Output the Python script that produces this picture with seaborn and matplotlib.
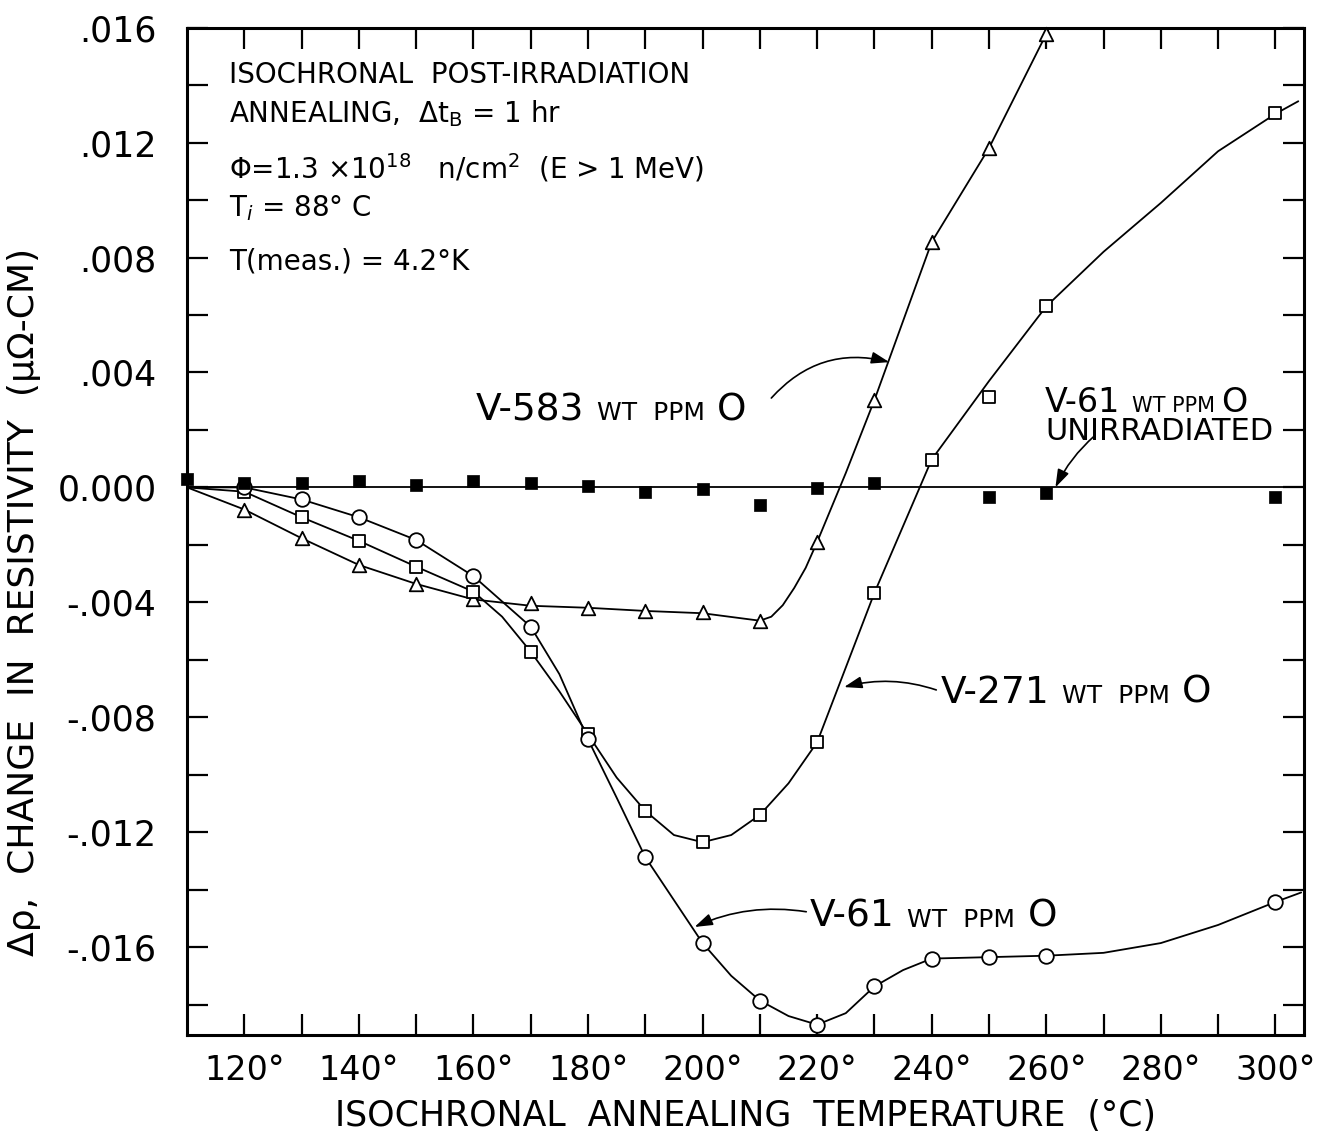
import numpy as np
import pandas as pd
import matplotlib
matplotlib.use("Agg")
import matplotlib.pyplot as plt
import seaborn as sns

# ---------------- data ----------------
# measured points
V583_T = [120, 130, 140, 150, 160, 170, 180, 190, 200, 210, 220, 230, 240, 250, 260]
V583_D = [-0.00077, -0.00177, -0.0027, -0.00336, -0.0039, -0.00404, -0.00419, -0.0043,
          -0.00433, -0.00464, -0.00191, 0.00304, 0.00854, 0.01181, 0.01578]

V271_T = [120, 130, 140, 150, 160, 170, 180, 190, 200, 210, 220, 230, 240, 250, 260, 300]
V271_D = [-0.00015, -0.00104, -0.00186, -0.00276, -0.00363, -0.00572, -0.0086, -0.01126,
          -0.01235, -0.0114, -0.00887, -0.00367, 0.00097, 0.00313, 0.0063, 0.01303]

V61_T = [120, 130, 140, 150, 160, 170, 180, 190, 200, 210, 220, 230, 240, 250, 260, 300]
V61_D = [0.0, -0.00042, -0.00104, -0.00183, -0.00309, -0.00485, -0.00877, -0.01287,
         -0.01586, -0.01786, -0.0187, -0.01737, -0.0164, -0.01635, -0.0163, -0.01443]

UNIRR_T = [110, 120, 130, 140, 150, 160, 170, 180, 190, 200, 210, 220, 230, 250, 260, 300]
UNIRR_D = [0.0003, 0.00017, 0.00014, 0.00022, 0.0001, 0.00022, 0.00016, 0.00006,
           -0.00017, -0.00006, -0.0006, -0.00002, 0.00016, -0.00035, -0.0002, -0.00033]

# hand-drawn curves, positions
C583_T = [110, 120, 130, 140, 150, 160, 170, 180, 190, 200, 210, 212, 214, 216, 218, 220, 225,
          230, 240, 250, 260, 260.5]
C583_D = [0.0, -0.00077, -0.00177, -0.0027, -0.00336, -0.0039, -0.00412, -0.00419, -0.0043,
          -0.00438, -0.00464, -0.0045, -0.0041, -0.0035, -0.0028, -0.0019, 0.0005,
          0.00304, 0.00854, 0.01181, 0.01578, 0.016]

C271_T = [110, 120, 130, 140, 150, 160, 165, 170, 175, 180, 185, 190, 195, 200, 205, 210, 215,
          220, 230, 240, 250, 260, 270, 280, 290, 300, 304]
C271_D = [0.0, -0.00015, -0.00104, -0.00186, -0.00276, -0.00363, -0.0045, -0.00572, -0.0071,
          -0.0086, -0.0101, -0.01126, -0.0121, -0.01235, -0.0121, -0.0114, -0.0103, -0.00887,
          -0.00367, 0.00097, 0.0037, 0.0063, 0.0082, 0.0099, 0.0117, 0.0130, 0.01344]

C61_T = [110, 120, 130, 140, 150, 160, 170, 175, 180, 185, 190, 200, 205, 210, 215, 220, 225,
         230, 235, 240, 250, 260, 270, 280, 290, 300, 304.5]
C61_D = [0.0, 0.0, -0.00042, -0.00104, -0.00183, -0.00309, -0.00485, -0.0065, -0.00877, -0.0108,
         -0.01287, -0.01586, -0.0170, -0.01786, -0.0184, -0.0187, -0.0183, -0.01737, -0.0168,
         -0.0164, -0.01635, -0.0163, -0.0162, -0.01586, -0.01523, -0.01443, -0.0141]

# axis ticks / labels
XTICKS = [120, 130, 140, 150, 160, 170, 180, 190, 200, 210, 220, 230, 240, 250, 260, 270, 280, 290, 300]
XTICK_LABELS = ["120°", "", "140°", "", "160°", "", "180°", "", "200°", "", "220°", "",
                "240°", "", "260°", "", "280°", "", "300°"]
YTICKS = [-0.018, -0.016, -0.014, -0.012, -0.010, -0.008, -0.006, -0.004, -0.002, 0.0,
          0.002, 0.004, 0.006, 0.008, 0.010, 0.012, 0.014, 0.016]
YTICK_LABELS = ["", "-.016", "", "-.012", "", "-.008", "", "-.004", "", "0.000",
                "", ".004", "", ".008", "", ".012", "", ".016"]

# ---------------- figure ----------------
sns.set_theme(style="ticks")
plt.rcParams["font.family"] = ["DejaVu Sans"]
plt.rcParams["mathtext.fontset"] = "dejavusans"
for k in ["text.color", "axes.labelcolor", "xtick.color", "ytick.color", "axes.edgecolor"]:
    plt.rcParams[k] = "black"

fig, ax = plt.subplots(figsize=(13.22, 11.35), dpi=100)
fig.subplots_adjust(left=0.1415, right=0.9864, top=0.9756, bottom=0.0881)

LW = 1.3
ax.axhline(0.0, color="black", lw=LW, zorder=2)

for cx, cy in [(C583_T, C583_D), (C271_T, C271_D), (C61_T, C61_D)]:
    sns.lineplot(x=cx, y=cy, ax=ax, color="black", lw=LW, sort=False,
                 estimator=None, zorder=2)

mk = dict(ax=ax, color="white", edgecolor="black", linewidth=1.3, zorder=3, clip_on=False,
          legend=False)
sns.scatterplot(x=V583_T, y=V583_D, marker="^", s=95, **mk)
sns.scatterplot(x=V271_T, y=V271_D, marker="s", s=75, **mk)
sns.scatterplot(x=V61_T, y=V61_D, marker="o", s=110, **mk)
sns.scatterplot(x=UNIRR_T, y=UNIRR_D, marker="s", s=70, color="black", edgecolor="black",
                linewidth=0.5, zorder=3, clip_on=False, legend=False, ax=ax)

ax.set_xlim(110, 305)
ax.set_ylim(-0.01906, 0.016)
ax.set_xticks(XTICKS)
ax.set_xticklabels(XTICK_LABELS, fontsize=24)
ax.set_yticks(YTICKS)
ax.set_yticklabels(YTICK_LABELS, fontsize=25)
ax.tick_params(axis="both", direction="in", length=15, width=1.6, top=True, right=True,
               colors="black")
ax.tick_params(axis="x", pad=14)
ax.tick_params(axis="y", pad=22)
for sp in ax.spines.values():
    sp.set_linewidth(2.2)
    sp.set_visible(True)
    sp.set_color("black")

ax.set_xlabel("ISOCHRONAL  ANNEALING  TEMPERATURE  (°C)", fontsize=25, labelpad=8)
ax.set_ylabel("Δρ,  CHANGE  IN  RESISTIVITY  (μΩ-CM)", fontsize=26)
ax.yaxis.set_label_coords(-0.131, 0.43)

# ---- info block ----
info = [
    ("ISOCHRONAL  POST-IRRADIATION", 0.01435),
    (r"ANNEALING,  $\Delta\mathrm{t}_{\mathrm{B}}$ = 1 hr", 0.01300),
    (r"Φ=1.3 ×10$^{18}$   n/cm$^{2}$  (E > 1 MeV)", 0.01110),
    (r"T$_{\it i}$ = 88° C", 0.00972),
    ("T(meas.) = 4.2°K", 0.00785),
]
for txt, yv in info:
    ax.text(117.3, yv, txt, fontsize=20, va="center", ha="left")


def label(x, y, parts):
    big, small = 27, 18
    t = ax.text(x, y, parts[0], fontsize=big, va="baseline", ha="left")
    prev = t
    sizes = [small, big]
    for p, s in zip(parts[1:], sizes):
        prev = ax.annotate(p, xy=(1, 0), xycoords=prev, xytext=(9, 2 if s == small else -2),
                           textcoords="offset points", fontsize=s, va="bottom", ha="left")
    return t


label(160.4, 0.00234, ["V-583", "WT  PPM", "O"])
label(241.5, -0.00750, ["V-271", "WT  PPM", "O"])
label(218.7, -0.01530, ["V-61", "WT  PPM", "O"])

# unirradiated label
t1 = ax.text(259.8, 0.00262, "V-61", fontsize=24, va="baseline", ha="left")
t2 = ax.annotate("WT PPM", xy=(1, 0), xycoords=t1, xytext=(8, 2), textcoords="offset points",
                 fontsize=15, va="bottom", ha="left")
ax.annotate("O", xy=(1, 0), xycoords=t2, xytext=(5, -2), textcoords="offset points",
            fontsize=24, va="bottom", ha="left")
ax.text(259.8, 0.00165, "UNIRRADIATED", fontsize=22, va="baseline", ha="left")

arrow = dict(arrowstyle="-|>,head_length=0.9,head_width=0.3", color="black", lw=1.2,
             shrinkA=0, shrinkB=0)
ax.annotate("", xy=(232.6, 0.00436), xytext=(212.0, 0.00311),
            arrowprops=dict(connectionstyle="arc3,rad=-0.3", **arrow))
ax.annotate("", xy=(224.7, -0.00695), xytext=(240.8, -0.00705),
            arrowprops=dict(connectionstyle="arc3,rad=0.15", **arrow))
ax.annotate("", xy=(198.6, -0.0153), xytext=(218.1, -0.01477),
            arrowprops=dict(connectionstyle="arc3,rad=0.15", **arrow))
ax.annotate("", xy=(261.6, 0.0), xytext=(268.4, 0.00179),
            arrowprops=dict(connectionstyle="arc3,rad=0.1", **arrow))

fig.savefig("out.png", dpi=100)
